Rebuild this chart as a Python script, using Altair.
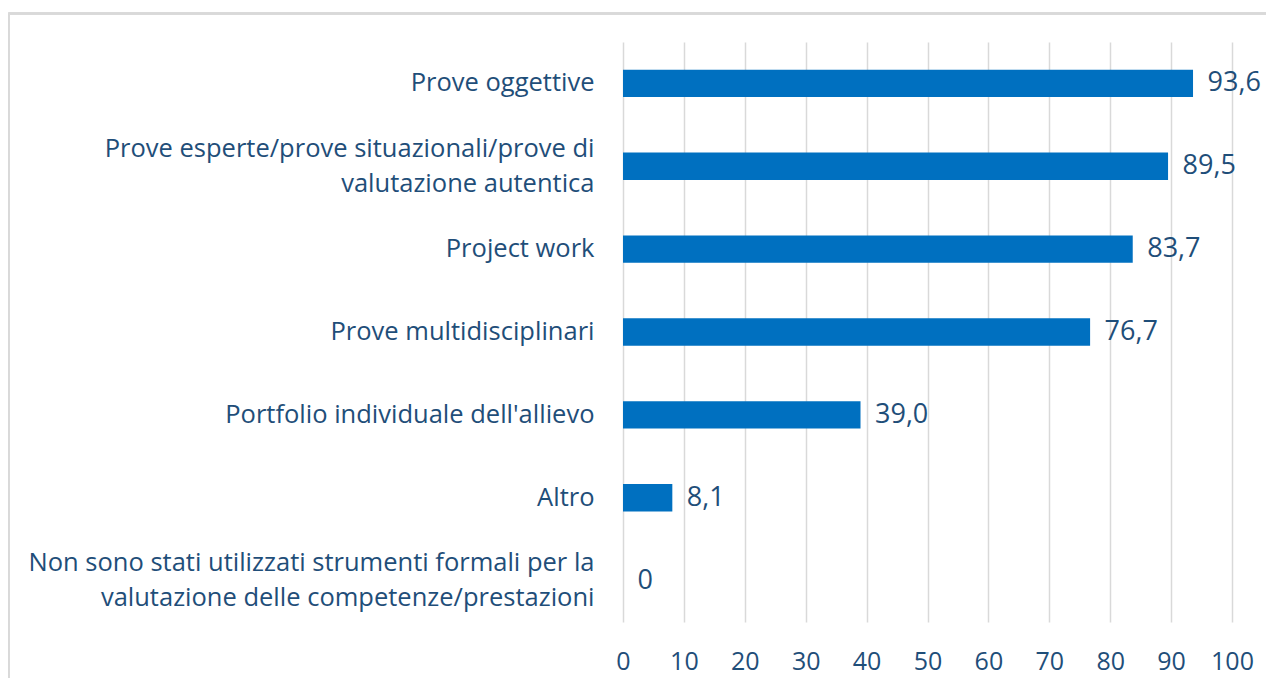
import altair as alt
import pandas as pd

categories = [
    "Prove oggettive",
    "Prove esperte/prove situazionali/prove di\nvalutazione autentica",
    "Project work",
    "Prove multidisciplinari",
    "Portfolio individuale dell'allievo",
    "Altro",
    "Non sono stati utilizzati strumenti formali per la\nvalutazione delle competenze/prestazioni",
]
values = [93.6, 89.5, 83.7, 76.7, 39.0, 8.1, 0]
x_ticks = [0, 10, 20, 30, 40, 50, 60, 70, 80, 90, 100]

df = pd.DataFrame({"cat": categories, "value": values})

FONT = "Open Sans"
TXT = "#1f4e79"
BAR = "#0070c0"
GRID = "#d9d9d9"

y_enc = alt.Y(
    "cat:N",
    sort=categories,
    title=None,
    scale=alt.Scale(paddingInner=0.67, paddingOuter=0.335),
    axis=alt.Axis(
        labelExpr="split(datum.label, '\\n')",
        labelFont=FONT,
        labelFontSize=25.5,
        labelColor=TXT,
        labelLimit=0,
        labelPadding=29,
        labelLineHeight=35,
        labelBaseline="middle",
        labelOffset={
            "condition": {"test": "indexof(datum.label, '\\n') >= 0", "value": -17.5},
            "value": 0,
        },
        ticks=False,
        domain=False,
        grid=False,
    ),
)
x_enc = alt.X(
    "value:Q",
    title=None,
    scale=alt.Scale(domain=[0, 100], nice=False),
    axis=alt.Axis(
        values=x_ticks,
        labelFont=FONT,
        labelFontSize=25,
        labelColor=TXT,
        labelPadding=27,
        labelFlush=False,
        labelOverlap=False,
        ticks=False,
        domain=False,
        grid=True,
        gridColor=GRID,
        gridWidth=1.5,
    ),
)

bars = alt.Chart(df).mark_bar(color=BAR).encode(x=x_enc, y=y_enc)

labels = (
    alt.Chart(df)
    .transform_calculate(
        lab="datum.value == 0 ? '0' : replace(format(datum.value, '.1f'), '.', ',')"
    )
    .mark_text(align="left", baseline="middle", dx=14.5, font=FONT, fontSize=27, color=TXT)
    .encode(x="value:Q", y=alt.Y("cat:N", sort=categories), text="lab:N")
)

border_top = alt.Chart(df).mark_rule(color=GRID, strokeWidth=2).encode(
    x=alt.value(-614.5), x2=alt.value(700), y=alt.value(-28.5)
)
border_left = alt.Chart(df).mark_rule(color=GRID, strokeWidth=2).encode(
    x=alt.value(-614.5), y=alt.value(-28.5), y2=alt.value(700)
)

chart = (
    alt.layer(border_top, border_left, bars, labels)
    .properties(
        width=609,
        height=580,
        autosize=alt.AutoSizeParams(type="none"),
        padding={"left": 615, "top": 34, "right": 34, "bottom": 56},
    )
    .configure_view(stroke=None)
)

chart.save("out.html", embed_options={"renderer": "svg", "actions": False})
